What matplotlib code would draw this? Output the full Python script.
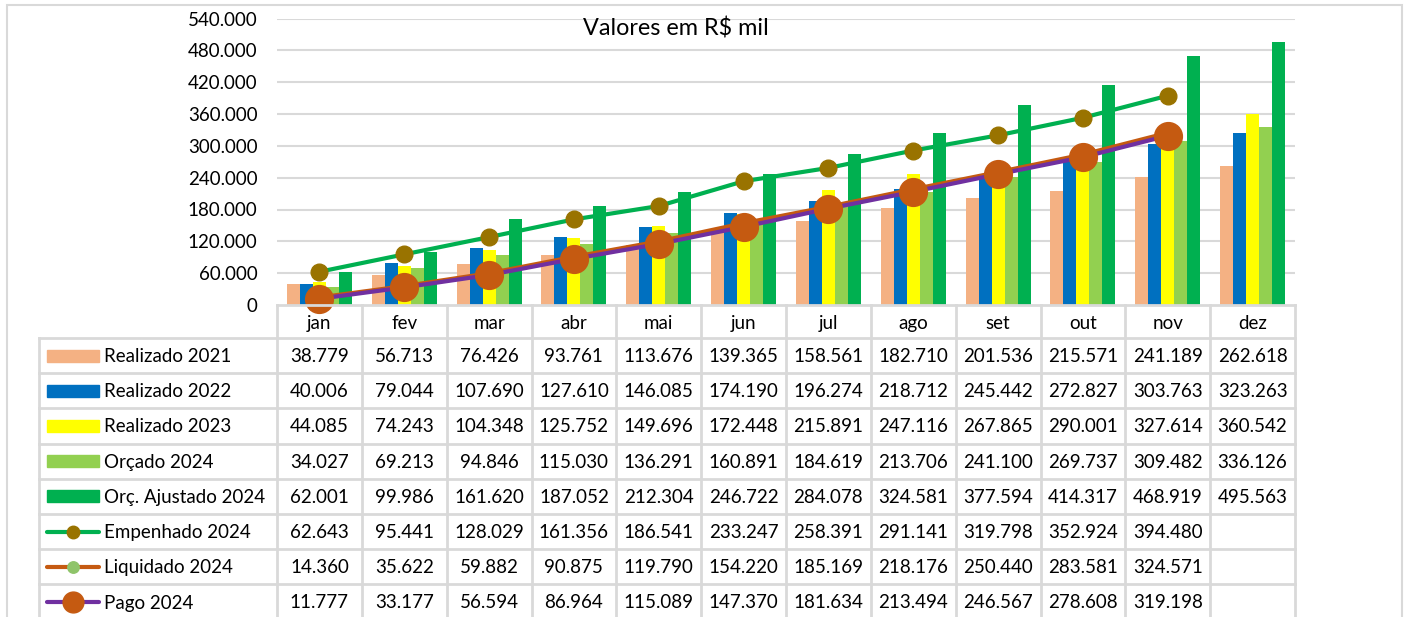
import matplotlib.pyplot as plt
from matplotlib.patches import Rectangle
import numpy as np

plt.rcParams['font.family'] = ['Lato', 'DejaVu Sans']

meses = ['jan', 'fev', 'mar', 'abr', 'mai', 'jun', 'jul', 'ago', 'set', 'out', 'nov', 'dez']

realizado_2021 = [38779, 56713, 76426, 93761, 113676, 139365, 158561, 182710, 201536, 215571, 241189, 262618]
realizado_2022 = [40006, 79044, 107690, 127610, 146085, 174190, 196274, 218712, 245442, 272827, 303763, 323263]
realizado_2023 = [44085, 74243, 104348, 125752, 149696, 172448, 215891, 247116, 267865, 290001, 327614, 360542]
orcado_2024 = [34027, 69213, 94846, 115030, 136291, 160891, 184619, 213706, 241100, 269737, 309482, 336126]
orc_ajustado_2024 = [62001, 99986, 161620, 187052, 212304, 246722, 284078, 324581, 377594, 414317, 468919, 495563]
empenhado_2024 = [62643, 95441, 128029, 161356, 186541, 233247, 258391, 291141, 319798, 352924, 394480]
liquidado_2024 = [14360, 35622, 59882, 90875, 119790, 154220, 185169, 218176, 250440, 283581, 324571]
pago_2024 = [11777, 33177, 56594, 86964, 115089, 147370, 181634, 213494, 246567, 278608, 319198]

barras = [
    ('Realizado 2021', realizado_2021, '#F4B183'),
    ('Realizado 2022', realizado_2022, '#0070C0'),
    ('Realizado 2023', realizado_2023, '#FFFF00'),
    ('Orçado 2024', orcado_2024, '#92D050'),
    ('Orç. Ajustado 2024', orc_ajustado_2024, '#00B050'),
]
# (nome, valores, cor da linha, cor do marcador, tamanho do marcador)
linhas = [
    ('Empenhado 2024', empenhado_2024, '#00B050', '#997300', 12),
    ('Liquidado 2024', liquidado_2024, '#C55A11', '#8FC46A', 11),
    ('Pago 2024', pago_2024, '#7030A0', '#C55A11', 20),
]

W, H = 1407, 617
FS = 13.5
GRID = '#D9D9D9'

fig = plt.figure(figsize=(W / 100, H / 100), dpi=100)

# moldura externa
fig.patches.append(Rectangle((7 / W, -0.1), (1402 - 7) / W, 1.1 - 5 / H, transform=fig.transFigure,
                             fill=False, edgecolor=GRID, linewidth=1.5))

x0, x1 = 277, 1295
col_w = (x1 - x0) / 12
ax = fig.add_axes([x0 / W, 1 - 305 / H, (x1 - x0) / W, (305 - 18.5) / H])

x = np.arange(len(meses))
bw = 13 / col_w
for i, (nome, vals, cor) in enumerate(barras):
    ax.bar(x + (i - 2) * bw, vals, width=bw, color=cor, zorder=2)

for nome, vals, cor, mcor, ms in linhas:
    xs = x[:len(vals)]
    ax.plot(xs, vals, color=cor, linewidth=3, zorder=3, solid_capstyle='round')
    ax.plot(xs, vals, linestyle='none', marker='o', markersize=ms, markerfacecolor=mcor,
            markeredgecolor=mcor, zorder=4, clip_on=False)

ax.set_xlim(-0.5, 11.5)
ax.set_ylim(0, 540000)
ticks = np.arange(0, 540001, 60000)
ax.set_yticks(ticks)
ax.set_yticklabels(['0' if t == 0 else f'{t:,}'.replace(',', '.') for t in ticks], fontsize=FS)
ax.tick_params(axis='y', length=0, pad=14)
ax.set_xticks([])
for t in ticks[1:]:
    ax.axhline(t, color=GRID, linewidth=1.5, zorder=1)
for s in ax.spines.values():
    s.set_visible(False)
ax.patch.set_alpha(0)

fig.text(675.5 / W, 1 - 28 / H, 'Valores em R$ mil', fontsize=16.8, ha='center', va='center')

# tabela de dados
lab_w = (x0 - 39) / col_w
tax = fig.add_axes([39 / W, 0, (x1 - 39) / W, (H - 305) / H])
tax.set_xlim(-0.5 - lab_w, 11.5)
tax.set_ylim(H - 305, 0)
tax.axis('off')

head_h = 33
row_h = 35.2
n_rows = len(barras) + len(linhas)
y_bottom = head_h + n_rows * row_h
lx = -0.5 - lab_w

# linhas da grade
tax.plot([-0.5, 11.5], [0, 0], color=GRID, lw=2, clip_on=False)
for r in range(n_rows + 1):
    y = head_h + r * row_h
    tax.plot([lx, 11.5], [y, y], color=GRID, lw=2, clip_on=False)
for c in range(13):
    tax.plot([c - 0.5, c - 0.5], [0, y_bottom], color=GRID, lw=2, clip_on=False)
tax.plot([lx, lx], [head_h, y_bottom], color=GRID, lw=2, clip_on=False)

for c, m in enumerate(meses):
    tax.text(c, head_h / 2 + 1.5, m, ha='center', va='center', fontsize=FS)

def fmt(v):
    return f'{v:,}'.replace(',', '.')

key_x0 = lx + 8 / col_w
key_x1 = lx + 60 / col_w
lab_x = lx + 65 / col_w

rows = [(n, v, ('bar', c)) for n, v, c in barras] + [(n, v, ('line', c, mc, ms)) for n, v, c, mc, ms in linhas]
for r, (nome, vals, estilo) in enumerate(rows):
    yc = head_h + r * row_h + row_h / 2
    if estilo[0] == 'bar':
        tax.add_patch(Rectangle((key_x0, yc - 6), key_x1 - key_x0, 12, color=estilo[1]))
    else:
        tax.plot([key_x0, key_x1], [yc, yc], color=estilo[1], lw=3, solid_capstyle='round')
        tax.plot([(key_x0 + key_x1) / 2], [yc], marker='o', markersize=estilo[3] * 0.75,
                 color=estilo[2])
    tax.text(lab_x, yc + 1, nome, ha='left', va='center', fontsize=FS)
    for c, v in enumerate(vals):
        tax.text(c, yc + 1, fmt(v), ha='center', va='center', fontsize=FS)

fig.savefig('out.png', dpi=100)
